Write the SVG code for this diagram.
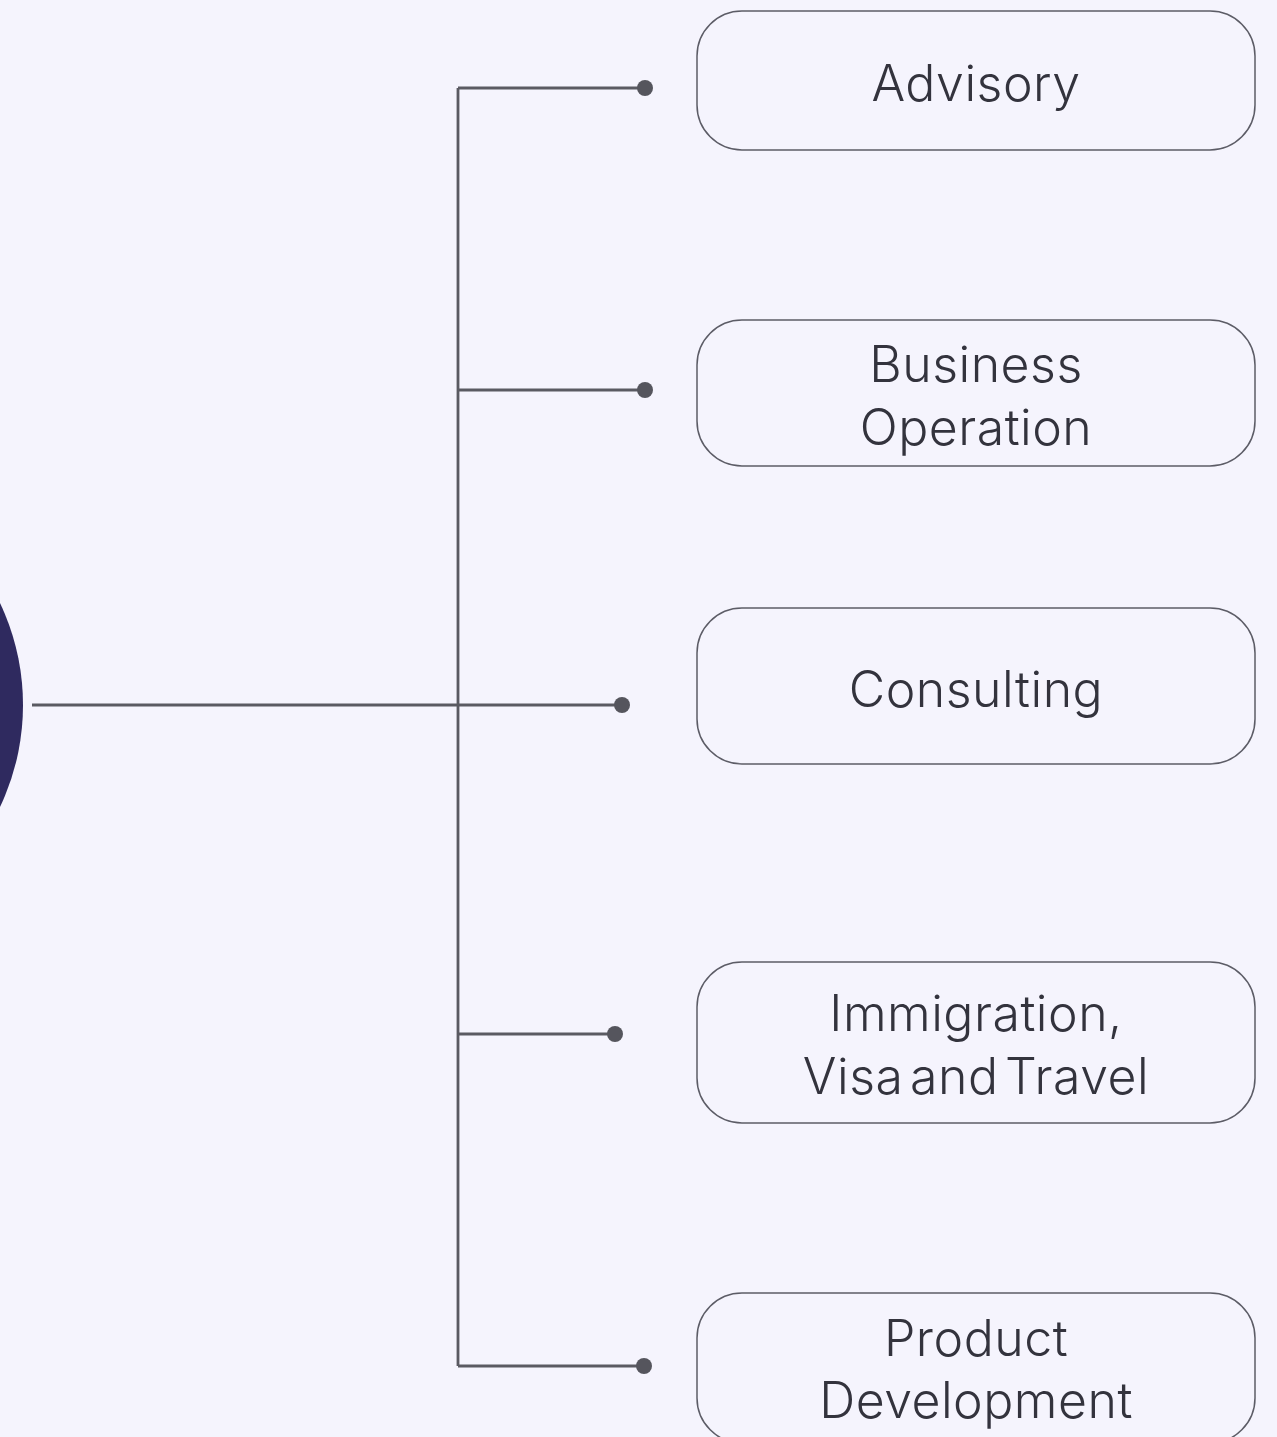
<svg xmlns="http://www.w3.org/2000/svg" width="1277" height="1437" viewBox="0 0 1277 1437">
<style>
.box{fill:none;stroke:#5c5c66;stroke-width:1.5}
.lbl{font-family:Inter,"Liberation Sans",sans-serif;font-weight:300;font-size:50px;fill:#33333d;text-anchor:middle;letter-spacing:0.5px}
.ln{fill:none;stroke:#5a5a62;stroke-width:2.8}
.dot{fill:#55555d}
</style>
<rect width="1277" height="1437" fill="#f5f4fd"/>
<g id="hub"><circle cx="-215" cy="705" r="238" fill="#2f2a5f"/></g>
<g id="connectors">
<path class="ln" d="M32 705H622M458 88V1366M458 88H645M458 390H645M458 1034H615M458 1366H644"/>
<circle class="dot" cx="645" cy="88" r="8"/>
<circle class="dot" cx="645" cy="390" r="8"/>
<circle class="dot" cx="622" cy="705" r="8"/>
<circle class="dot" cx="615" cy="1034" r="8"/>
<circle class="dot" cx="644" cy="1366" r="8"/>
</g>
<g id="advisory"><rect class="box" x="697" y="11" width="558" height="139" rx="45"/><text class="lbl" x="976" y="101">Advisory</text></g>
<g id="business"><rect class="box" x="697" y="320" width="558" height="146" rx="45"/><text class="lbl" x="976" y="382">Business</text><text class="lbl" x="976" y="445">Operation</text></g>
<g id="consulting"><rect class="box" x="697" y="608" width="558" height="156" rx="45"/><text class="lbl" x="976" y="707">Consulting</text></g>
<g id="immigration"><rect class="box" x="697" y="962" width="558" height="161" rx="45"/><text class="lbl" x="976" y="1031">Immigration,</text><text class="lbl" x="976" y="1094" word-spacing="-8">Visa and Travel</text></g>
<g id="product"><rect class="box" x="697" y="1293" width="558" height="150" rx="45"/><text class="lbl" x="976" y="1356">Product</text><text class="lbl" x="976" y="1418">Development</text></g>
</svg>
